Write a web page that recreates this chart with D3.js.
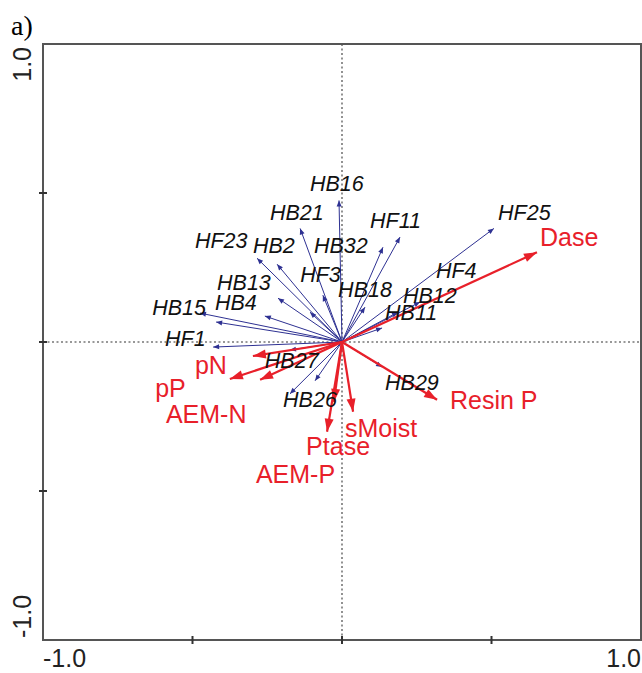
<!DOCTYPE html>
<html>
<head>
<meta charset="utf-8">
<script src="https://cdn.jsdelivr.net/npm/d3@7"></script>
<style>
body { margin: 0; background: #fff; }
</style>
</head>
<body>
<svg></svg>
<script>
// species arrows (blue), tips in ordination units
const speciesNames = ['HB16', 'HB21', 'HF23', 'HB2', 'HB32', 'HF11', 'HF25', 'HF3', 'HB18',
    'HF4', 'HB12', 'HB11', 'HB13', 'HB4', 'HB15', 'HF1', 'HB27', 'HB26', 'HB29', '', '', ''];
const speciesX = [-0.010, -0.140, -0.284, -0.217, 0.137, 0.194, 0.508, -0.064, 0.077,
    0.261, 0.187, 0.134, -0.214, -0.258, -0.475, -0.431, -0.174, -0.174, 0.134, -0.421, -0.107, -0.090];
const speciesY = [0.475, 0.381, 0.281, 0.261, 0.318, 0.352, 0.381, 0.157, 0.117,
    0.134, 0.100, 0.047, 0.147, 0.087, 0.097, -0.017, -0.027, -0.174, -0.084, 0.067, 0.100, -0.130];
// where each species name sits (start of text, baseline)
const speciesLabelX = [-0.107, -0.241, -0.492, -0.298, -0.094, 0.094, 0.522, -0.140, -0.013,
    0.314, 0.204, 0.144, -0.418, -0.425, -0.635, -0.592, -0.258, -0.197, 0.144];
const speciesLabelY = [0.508, 0.408, 0.314, 0.298, 0.298, 0.381, 0.408, 0.201, 0.151,
    0.214, 0.130, 0.074, 0.174, 0.107, 0.090, -0.013, -0.087, -0.217, -0.161];

// environmental variables (red)
const envNames = ['Dase', 'pN', 'pP', 'AEM-N', 'Resin P', 'sMoist', 'Ptase', 'AEM-P'];
const envX = [0.652, -0.298, -0.375, -0.274, 0.318, 0.037, -0.027, -0.050];
const envY = [0.301, -0.047, -0.124, -0.127, -0.194, -0.234, -0.201, -0.301];
const envLabelX = [0.662, -0.492, -0.625, -0.589, 0.361, 0.010, -0.120, -0.288];
const envLabelY = [0.321, -0.107, -0.184, -0.271, -0.224, -0.318, -0.378, -0.472];

const axisTicks = [-0.5, 0, 0.5];
const axisLabels = ['-1.0', '1.0'];

var W = 642, H = 673;
var svg = d3.select('svg').attr('width', W).attr('height', H);

var x = d3.scaleLinear().domain([-1, 1]).range([43, 641]),
    y = d3.scaleLinear().domain([-1, 1]).range([640, 44]);

// panel letter
svg.append('text')
    .attr('x', 11).attr('y', 35)
    .style('font-family', '"Liberation Serif", "Times New Roman", serif')
    .style('font-size', '28px')
    .text('a)');

// zero lines
var zeroStyle = function(sel) {
    sel.attr('stroke', '#777').attr('stroke-width', 1.6).attr('stroke-dasharray', '2,2.5');
};
svg.append('line').attr('x1', x(0)).attr('x2', x(0)).attr('y1', y(1)).attr('y2', y(-1)).call(zeroStyle);
svg.append('line').attr('x1', x(-1)).attr('x2', x(1)).attr('y1', y(0)).attr('y2', y(0)).call(zeroStyle);

// frame
svg.append('rect')
    .attr('x', x(-1)).attr('y', y(1))
    .attr('width', x(1) - x(-1)).attr('height', y(-1) - y(1))
    .attr('fill', 'none').attr('stroke', '#555').attr('stroke-width', 2);

// ticks on left and bottom
svg.selectAll('.ytick').data(axisTicks).enter().append('line')
    .attr('class', 'ytick')
    .attr('x1', x(-1) - 4).attr('x2', x(-1) + 4)
    .attr('y1', function(d) { return y(d); }).attr('y2', function(d) { return y(d); })
    .attr('stroke', '#333').attr('stroke-width', 2);
svg.selectAll('.xtick').data(axisTicks).enter().append('line')
    .attr('class', 'xtick')
    .attr('y1', y(-1) - 4).attr('y2', y(-1) + 4)
    .attr('x1', function(d) { return x(d); }).attr('x2', function(d) { return x(d); })
    .attr('stroke', '#333').attr('stroke-width', 2);

var axisFont = function(sel) {
    sel.style('font-family', '"Liberation Sans", Arial, sans-serif')
        .style('font-size', '25px').attr('fill', '#222');
};
// x labels
svg.append('text').attr('x', x(-1)).attr('y', 667).attr('text-anchor', 'start').text(axisLabels[0]).call(axisFont);
svg.append('text').attr('x', x(1)).attr('y', 667).attr('text-anchor', 'end').text(axisLabels[1]).call(axisFont);
// y labels (rotated)
svg.append('text').attr('transform', 'translate(31,' + (y(1) + 3) + ') rotate(-90)')
    .attr('text-anchor', 'end').text(axisLabels[1]).call(axisFont);
svg.append('text').attr('transform', 'translate(31,' + (y(-1) - 2) + ') rotate(-90)')
    .attr('text-anchor', 'start').text(axisLabels[0]).call(axisFont);

// arrow helper
function arrowHead(tx, ty, len, half) {
    var ox = x(0), oy = y(0),
        dx = tx - ox, dy = ty - oy,
        L = Math.sqrt(dx * dx + dy * dy),
        ux = dx / L, uy = dy / L,
        bx = tx - ux * len, by = ty - uy * len;
    return 'M' + tx + ',' + ty +
        'L' + (bx - uy * half) + ',' + (by + ux * half) +
        'L' + (bx + uy * half) + ',' + (by - ux * half) + 'Z';
}

var species = speciesX.map(function(d, i) {
    return {name: speciesNames[i], x: d, y: speciesY[i]};
});
var env = envX.map(function(d, i) {
    return {name: envNames[i], x: d, y: envY[i]};
});

var BLUE = '#2e3192', RED = '#e8202a';

var sp = svg.append('g');
sp.selectAll('line').data(species).enter().append('line')
    .attr('x1', x(0)).attr('y1', y(0))
    .attr('x2', function(d) { return x(d.x); })
    .attr('y2', function(d) { return y(d.y); })
    .attr('stroke', BLUE).attr('stroke-width', 1);
sp.selectAll('path').data(species).enter().append('path')
    .attr('d', function(d) { return arrowHead(x(d.x), y(d.y), 6, 2.5); })
    .attr('fill', BLUE);

var en = svg.append('g');
en.selectAll('line').data(env).enter().append('line')
    .attr('x1', x(0)).attr('y1', y(0))
    .attr('x2', function(d) { return x(d.x); })
    .attr('y2', function(d) { return y(d.y); })
    .attr('stroke', RED).attr('stroke-width', 2.2);
en.selectAll('path').data(env).enter().append('path')
    .attr('d', function(d) { return arrowHead(x(d.x), y(d.y), 13, 4.5); })
    .attr('fill', RED);

// labels
svg.append('g').selectAll('text').data(speciesLabelX).enter().append('text')
    .attr('x', function(d) { return x(d); })
    .attr('y', function(d, i) { return y(speciesLabelY[i]); })
    .style('font-family', '"Liberation Sans", Arial, sans-serif')
    .style('font-style', 'italic')
    .style('font-size', '21.5px')
    .attr('fill', '#111')
    .text(function(d, i) { return speciesNames[i]; });

svg.append('g').selectAll('text').data(envLabelX).enter().append('text')
    .attr('x', function(d) { return x(d); })
    .attr('y', function(d, i) { return y(envLabelY[i]); })
    .style('font-family', '"Liberation Sans", Arial, sans-serif')
    .style('font-size', '25px')
    .attr('fill', RED)
    .text(function(d, i) { return envNames[i]; });
</script>
</body>
</html>
